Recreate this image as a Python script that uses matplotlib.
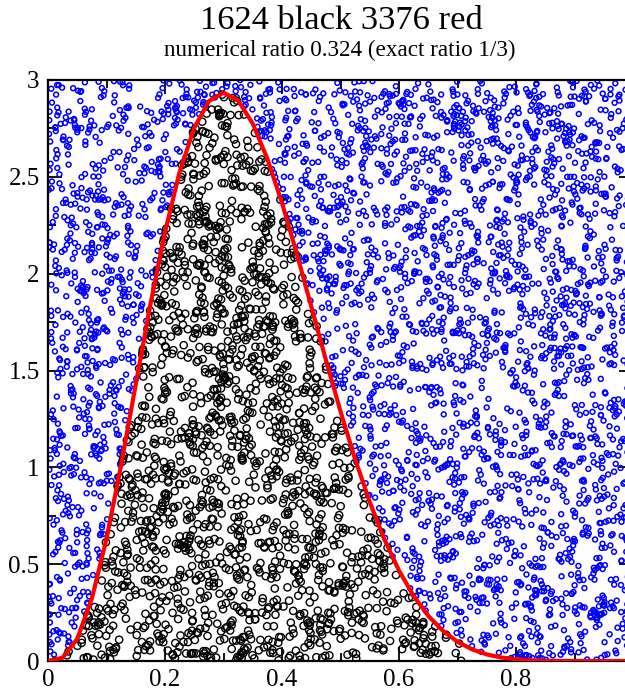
import numpy as np
import matplotlib
matplotlib.use("Agg")
import matplotlib.pyplot as plt
from matplotlib.ticker import MultipleLocator

plt.rcParams['font.family'] = ['Liberation Serif', 'DejaVu Serif']

# Density curve (x, height)
curve_x = [0.0, 0.025, 0.05, 0.075, 0.1, 0.125, 0.15, 0.175, 0.2, 0.225, 0.25,
           0.275, 0.3, 0.325, 0.35, 0.375, 0.4, 0.425, 0.45, 0.475, 0.5, 0.525,
           0.55, 0.575, 0.6, 0.625, 0.65, 0.675, 0.7, 0.725, 0.75, 0.775, 0.8,
           0.825, 0.85, 0.875, 0.9, 0.925, 0.95, 1.0]
curve_y = [0.0, 0.017, 0.115, 0.323, 0.631, 1.012, 1.428, 1.840, 2.215, 2.525,
           2.753, 2.891, 2.935, 2.894, 2.775, 2.593, 2.365, 2.106, 1.831, 1.555,
           1.289, 1.042, 0.821, 0.628, 0.467, 0.336, 0.233, 0.156, 0.099, 0.060,
           0.034, 0.018, 0.009, 0.004, 0.0014, 0.0004, 0.0001, 0.0, 0.0, 0.0]

title = "1624 black 3376 red"
subtitle = "numerical ratio 0.324 (exact ratio 1/3)"
n_points = 5000
x_ticks = [0, 0.2, 0.4, 0.6, 0.8]
x_tick_labels = ["0", "0.2", "0.4", "0.6", "0.8"]
y_ticks = [0, 0.5, 1, 1.5, 2, 2.5, 3]
y_tick_labels = ["0", "0.5", "1", "1.5", "2", "2.5", "3"]

# Monte Carlo sample (individual points cannot be read off the picture)
rng = np.random.default_rng(7)
px = rng.uniform(0, 1, n_points)
py = rng.uniform(0, 3, n_points)
below = py < np.interp(px, curve_x, curve_y)

fig = plt.figure(figsize=(6.25, 6.9), dpi=100)
ax = fig.add_axes([48/625, 1-661/690, 585/625, (661-80)/690])

ax.scatter(px[~below], py[~below], s=3.5**2, facecolors='none',
           edgecolors='#0000ff', linewidths=1.1, zorder=2)
ax.scatter(px[below], py[below], s=5.2**2, facecolors='none',
           edgecolors='black', linewidths=1.0, zorder=3)
ax.plot(curve_x, curve_y, color='#ff0000', lw=3, zorder=4, solid_capstyle='butt')

ax.set_xlim(0, 1)
ax.set_ylim(0, 3)
ax.set_xticks(x_ticks)
ax.set_xticklabels(x_tick_labels)
ax.set_yticks(y_ticks)
ax.set_yticklabels(y_tick_labels)
ax.xaxis.set_minor_locator(MultipleLocator(0.1))
ax.yaxis.set_minor_locator(MultipleLocator(0.25))
ax.tick_params(which='both', direction='in', top=True, right=True,
               labelsize=18, width=1.3)
ax.tick_params(which='major', length=10, pad=6)
ax.tick_params(which='minor', length=5.5)
for s in ax.spines.values():
    s.set_linewidth(1.6)

fig.text(341/625, 1-29/690, title, ha='center', va='baseline', fontsize=24.8)
fig.text(340/625, 1-56/690, subtitle, ha='center', va='baseline', fontsize=16.7)

fig.savefig("out.png", dpi=100)
